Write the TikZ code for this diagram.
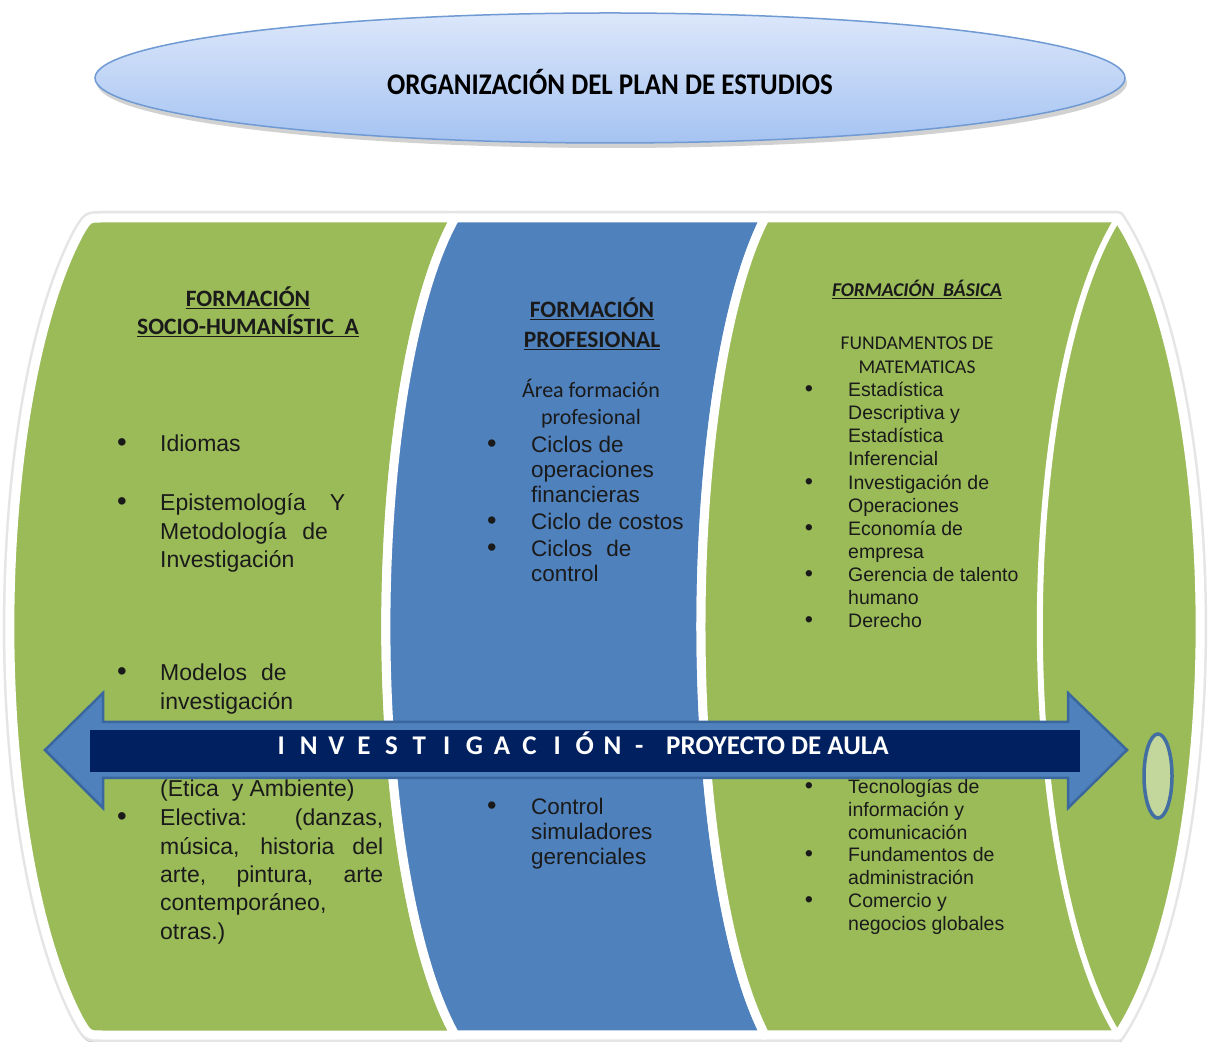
\documentclass[tikz,border=0pt]{standalone}
\usepackage{fontspec}
\setmainfont{Liberation Sans}
\newfontfamily\calib{Carlito}
\definecolor{segGreen}{HTML}{9BBB59}
\definecolor{segBlue}{HTML}{4F81BD}
\definecolor{navyBar}{HTML}{002060}
\definecolor{arrowEdge}{HTML}{3A679E}
\definecolor{txt}{HTML}{1A1A1A}
\definecolor{capFill}{HTML}{C3D69B}
\definecolor{titleTop}{HTML}{DCE7FA}
\definecolor{titleBot}{HTML}{A5C3F2}
\definecolor{titleEdge}{HTML}{6F9AD3}
\newcommand\bul[2]{\makebox[#1][l]{\scalebox{1.2}{\textbullet}}\parbox[t]{260pt}{#2}}
\newcommand\cblock[1]{\parbox[t]{320pt}{\centering #1}}
\newcommand\spacedLetter[1]{\makebox[27.6pt]{#1}}
\tikzset{
  pathL/.style={insert path={(455,823) -- (102,823) .. controls (88,823) .. (78.85,807.1) arc[start angle=120,end angle=240,x radius=138,y radius=453.3] .. controls (88,6) .. (102,6) -- (455,6) arc[start angle=244.3,end angle=115.7,x radius=122,y radius=453.3] -- cycle}},
  pathM/.style={insert path={(765,823) -- (455,823) arc[start angle=115.7,end angle=244.3,x radius=122,y radius=453.3] -- (765,6) arc[start angle=244.3,end angle=115.7,x radius=113,y radius=453.3] -- cycle}},
  pathR/.style={insert path={(1118,823) -- (765,823) arc[start angle=115.7,end angle=244.3,x radius=113,y radius=453.3] -- (1118,6) arc[start angle=-64.3,end angle=64.3,x radius=145,y radius=453.3] -- cycle}},
}
\begin{document}
\begin{tikzpicture}[x=1pt,y=1pt,
  glow/.style={draw=black!10, line width=14pt, line join=round},
  drop/.style={draw=black!22, line width=10pt, line join=round},
  seg/.style={draw=white, line width=9pt, line join=round},
  body/.style={anchor=base west, inner sep=0pt, text=txt},
  head/.style={anchor=base, inner sep=0pt, text=txt}]
\useasboundingbox (0,0) rectangle (1209,1041);
\fill[white] (0,0) rectangle (1209,1041);

% title
\fill[black!40, opacity=0.45] (612,958) ellipse [x radius=515, y radius=65];
\shadedraw[top color=titleTop, bottom color=titleBot, draw=titleEdge, line width=1.5pt] (610,963) ellipse [x radius=515, y radius=65];
\node[inner sep=0pt, text=black] (title) at (610,959) {\scalebox{0.9}[1]{\calib\bfseries\fontsize{30}{36}\selectfont ORGANIZACIÓN DEL PLAN DE ESTUDIOS}};

% cylinder
\begin{scope}[yshift=-3pt]
\draw[drop, pathL];
\draw[drop, pathM];
\draw[drop, pathR];
\end{scope}
\draw[glow, pathL];
\draw[glow, pathM];
\draw[glow, pathR];
\filldraw[seg, fill=segGreen, pathL];
\filldraw[seg, fill=segBlue, pathM];
\filldraw[seg, fill=segGreen, pathR];
\draw[white, line width=6pt] (1118,823) arc[start angle=115.7,end angle=244.3,x radius=138,y radius=453.3];
\filldraw[fill=capFill, draw=segBlue!85!black, line width=3.5pt] (1158,265) ellipse [x radius=14, y radius=42];

% left column
\node[head, font={\calib\bfseries\fontsize{23.5}{28}\selectfont}] (hL) at (248,734) {\cblock{\underline{FORMACIÓN}\\\underline{SOCIO-HUMANÍSTIC\ \ A}}};
\begin{scope}[every node/.append style={font={\fontsize{23}{28.3}\selectfont}}]
\node[body] (l1) at (117,589) {\bul{43pt}{Idiomas}};
\node[body] (l2) at (117,530) {\bul{43pt}{Epistemología\hspace{24pt}Y\\Metodología\hspace{15.7pt}de\\Investigación}};
\node[body] (l3) at (117,360) {\bul{43pt}{Modelos\hspace{14pt}de\\investigación}};
\node[body] (l4) at (160,244) {(Ética\ \ y Ambiente)};
\node[body] (l5) at (117,215) {\bul{43pt}{\makebox[223pt][s]{Electiva: (danzas,}\\\makebox[223pt][s]{música, historia del}\\\makebox[223pt][s]{arte, pintura, arte}\\contemporáneo,\\otras.)}};
\end{scope}

% middle column
\node[head, font={\calib\bfseries\fontsize{23.5}{30}\selectfont}] (hM) at (592,723) {\cblock{\underline{FORMACIÓN}\\\underline{PROFESIONAL}}};
\node[head, font={\calib\fontsize{22}{27}\selectfont}] (area) at (591,643) {\cblock{Área formación\\profesional}};
\begin{scope}[every node/.append style={font={\fontsize{22.5}{25}\selectfont}}]
\node[body] (m1) at (487,588) {\bul{44pt}{Ciclos de\\operaciones\\financieras}};
\node[body] (m2) at (487,511) {\bul{44pt}{Ciclo de costos}};
\node[body] (m3) at (487,484) {\bul{44pt}{Ciclos\hspace{14pt}de\\control}};
\node[body] (m4) at (487,226) {\bul{44pt}{Control\\simuladores\\gerenciales}};
\end{scope}

% right column
\node[head, font={\calib\bfseries\itshape\fontsize{19.5}{24}\selectfont}] (hR) at (917,744) {\underline{FORMACIÓN\ \ BÁSICA}};
\node[head, font={\calib\fontsize{19.5}{24}\selectfont}] (fund) at (917,691) {\cblock{FUNDAMENTOS DE\\MATEMATICAS}};
\begin{scope}[every node/.append style={font={\fontsize{19.5}{22.7}\selectfont}}]
\node[body] (r1) at (804.6,644) {\bul{43.4pt}{Estadística\\Descriptiva y\\Estadística\\Inferencial}};
\node[body] (r2) at (804.6,551) {\bul{43.4pt}{Investigación de\\Operaciones}};
\node[body] (r3) at (804.6,505) {\bul{43.4pt}{Economía de\\empresa}};
\node[body] (r4) at (804.6,459) {\bul{43.4pt}{Gerencia de talento\\humano}};
\node[body] (r5) at (804.6,413) {\bul{43.4pt}{Derecho}};
\node[body] (r6) at (804.6,247) {\bul{43.4pt}{Tecnologías de\\información y\\comunicación}};
\node[body] (r7) at (804.6,179) {\bul{43.4pt}{Fundamentos de\\administración}};
\node[body] (r8) at (804.6,133) {\bul{43.4pt}{Comercio y\\negocios globales}};
\end{scope}

% arrow
\filldraw[fill=segBlue, draw=arrowEdge, line width=2.5pt, line join=miter]
  (45,291) -- (103,348) -- (103,319) -- (1068,319) -- (1068,348) -- (1127,291)
  -- (1068,233) -- (1068,263) -- (103,263) -- (103,233) -- cycle;
\fill[navyBar] (90,269) rectangle (1080,311);
\node[anchor=base west, inner sep=0pt, text=white, font={\calib\bfseries\fontsize{27}{30}\selectfont}] (bar) at (267.2,286.5)
  {\spacedLetter{I}\spacedLetter{N}\spacedLetter{V}\spacedLetter{E}\spacedLetter{S}\spacedLetter{T}\spacedLetter{I}\spacedLetter{G}\spacedLetter{A}\spacedLetter{C}\spacedLetter{I}\spacedLetter{Ó}\spacedLetter{N}\makebox[26pt]{-}\hspace{14pt}PROYECTO DE AULA};
\end{tikzpicture}
\end{document}
